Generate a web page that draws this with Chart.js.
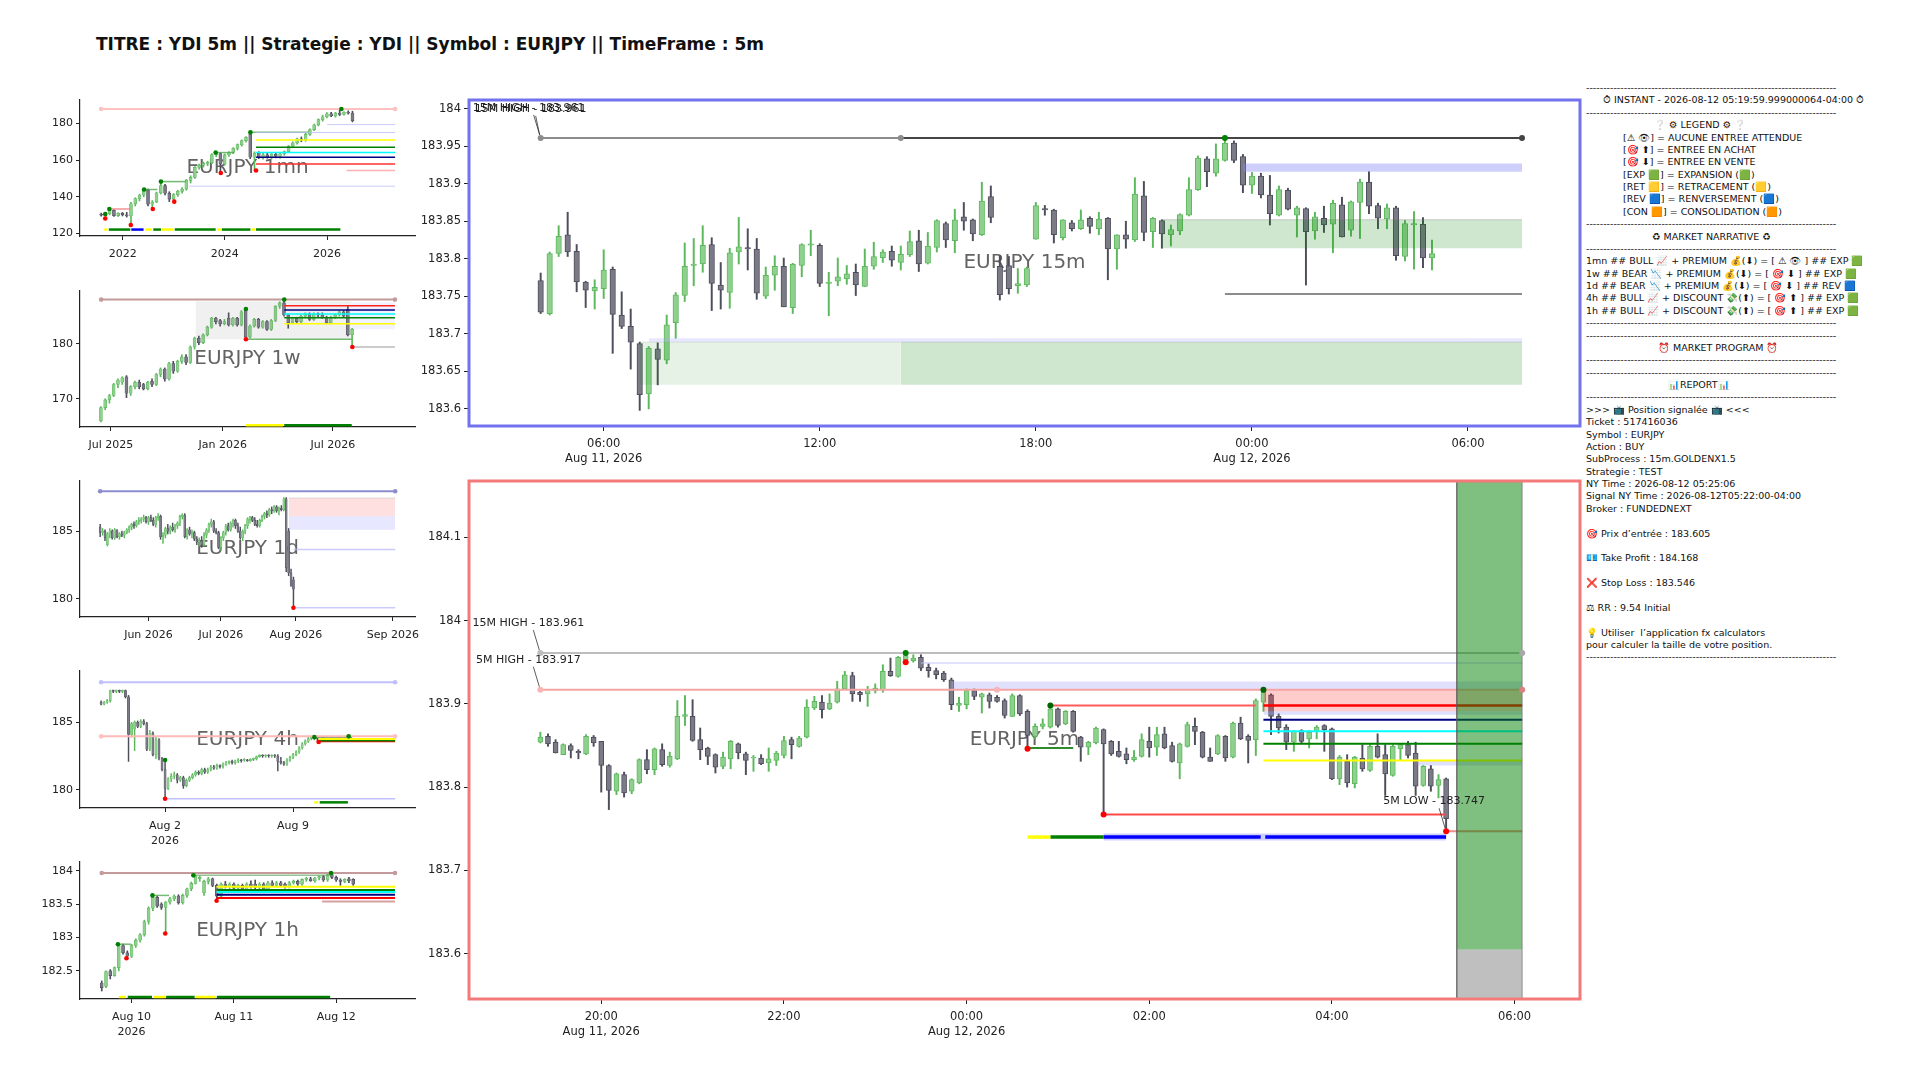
<!DOCTYPE html>
<html>
<head>
<meta charset="utf-8">
<script src="https://cdn.jsdelivr.net/npm/chart.js@4.4.1/dist/chart.umd.min.js"></script>
<style>
  body{margin:0;width:1920px;height:1080px;background:#fff;position:relative;overflow:hidden;font-family:"DejaVu Sans",sans-serif}
  #title{position:absolute;left:96px;top:34px;font-size:17px;font-weight:bold;color:#111;white-space:pre}
  #report{position:absolute;left:1586px;top:82px;font-size:9.5px;line-height:12.38px;color:#111;white-space:pre}
</style>
</head>
<body>
<div id="title">TITRE : YDI 5m || Strategie : YDI || Symbol : EURJPY || TimeFrame : 5m</div>
<div id="report"></div>
<script>
// ---- 15m candles [open, high, low, close], from Aug 11 04:15, every 15 min
const m15Start = 4.25, m15Step = 0.25; // hours since Aug 11 00:00
const m15Ohlc = [
[183.771,183.781,183.727,183.729],[183.727,183.809,183.725,183.807],[183.807,183.844,183.803,183.830],[183.832,183.862,183.803,183.809],
[183.810,183.819,183.756,183.769],[183.769,183.770,183.735,183.758],[183.757,183.772,183.733,183.762],[183.760,183.812,183.747,183.785],
[183.786,183.789,183.674,183.726],[183.725,183.756,183.707,183.710],[183.710,183.733,183.653,183.689],[183.687,183.689,183.598,183.619],
[183.620,183.683,183.600,183.681],[183.680,183.688,183.632,183.666],[183.665,183.725,183.660,183.712],[183.715,183.755,183.694,183.752],
[183.751,183.821,183.743,183.790],[183.791,183.827,183.764,183.793],[183.793,183.844,183.782,183.818],[183.819,183.828,183.731,183.767],
[183.765,183.795,183.733,183.758],[183.755,183.814,183.734,183.808],[183.809,183.855,183.793,183.816],[183.815,183.840,183.785,183.813],
[183.813,183.827,183.746,183.754],[183.750,183.789,183.747,183.778],[183.778,183.804,183.758,183.790],[183.790,183.801,183.736,183.736],
[183.735,183.794,183.727,183.793],[183.791,183.820,183.776,183.819],[183.818,183.838,183.804,183.820],[183.818,183.820,183.763,183.767],
[183.767,183.782,183.724,183.769],[183.770,183.801,183.764,183.776],[183.773,183.791,183.766,183.780],[183.782,183.793,183.751,183.765],
[183.763,183.813,183.763,183.790],[183.790,183.822,183.786,183.803],[183.801,183.812,183.795,183.809],[183.810,183.817,183.790,183.798],
[183.795,183.817,183.785,183.806],[183.805,183.837,183.803,183.823],[183.824,183.838,183.783,183.793],[183.794,183.835,183.793,183.817],
[183.815,183.852,183.809,183.851],[183.847,183.849,183.815,183.825],[183.824,183.866,183.808,183.852],[183.856,183.875,183.838,183.850],
[183.852,183.853,183.824,183.833],[183.832,183.902,183.831,183.877],[183.883,183.897,183.848,183.855],[183.790,183.804,183.745,183.752],
[183.791,183.803,183.753,183.760],[183.764,183.787,183.754,183.767],[183.765,183.789,183.763,183.787],[183.826,183.875,183.826,183.871],
[183.867,183.871,183.858,183.865],[183.865,183.866,183.821,183.832],[183.828,183.852,183.825,183.852],[183.848,183.851,183.837,183.840],
[183.840,183.865,183.839,183.852],[183.854,183.856,183.834,183.843],[183.840,183.862,183.832,183.853],[183.854,183.855,183.772,183.813],
[183.813,183.832,183.786,183.832],[183.832,183.850,183.814,183.826],[183.825,183.908,183.823,183.886],[183.884,183.903,183.824,183.835],
[183.836,183.855,183.815,183.854],[183.851,183.852,183.814,183.833],[183.832,183.845,183.817,183.839],[183.837,183.860,183.832,183.859],
[183.858,183.908,183.857,183.892],[183.892,183.937,183.891,183.934],[183.933,183.936,183.896,183.916],[183.914,183.953,183.910,183.933],
[183.931,183.961,183.930,183.954],[183.954,183.957,183.928,183.931],[183.936,183.939,183.888,183.898],[183.898,183.915,183.887,183.910],
[183.910,183.914,183.881,183.885],[183.885,183.911,183.845,183.860],[183.858,183.897,183.857,183.892],[183.891,183.894,183.865,183.866],
[183.858,183.870,183.829,183.868],[183.867,183.868,183.765,183.836],[183.837,183.862,183.826,183.856],[183.854,183.870,183.835,183.845],
[183.846,183.878,183.808,183.874],[183.872,183.882,183.829,183.829],[183.838,183.877,183.830,183.876],[183.875,183.906,183.827,183.902],
[183.902,183.916,183.860,183.870],[183.871,183.874,183.840,183.854],[183.853,183.873,183.840,183.868],[183.868,183.870,183.798,183.804],
[183.803,183.851,183.797,183.847],[183.845,183.863,183.786,183.847],[183.846,183.855,183.788,183.801],[183.801,183.825,183.785,183.807]
];
const m15Lines = [[4.25,14.25,183.961],[14.25,31.5,183.961],[23.25,31.5,183.753]];
const m15Bands = [[23.75,31.5,183.916,183.927],[21.5,31.5,183.814,183.852],[7.25,31.5,183.689,183.694],[7.0,14.25,183.632,183.689],[14.25,31.5,183.632,183.689]];
const m15Dots = [[4.25,183.961],[14.25,183.961],[31.5,183.961],[23.25,183.961]];
const m15Notes = [[4.25,183.961,'15M HIGH - 183.961'],[4.25,183.961,'15M HIGH - 183.961']];
const m15XTicks = [6,12,18,24,30];
const m15XLabels = [['06:00','Aug 11, 2026'],'12:00','18:00',['00:00','Aug 12, 2026'],'06:00'];
const m15YTicks = [183.6,183.65,183.7,183.75,183.8,183.85,183.9,183.95,184];

// ---- 5m candles [open, high, low, close], from Aug 11 19:20, every 5 min
const m5Start = 19 + 20/60, m5Step = 1/12;
const m5Ohlc = [
[183.854,183.866,183.853,183.860],[183.861,183.864,183.849,183.852],[183.854,183.857,183.841,183.841],[183.839,183.852,183.839,183.851],
[183.850,183.852,183.835,183.844],[183.843,183.845,183.834,183.841],[183.840,183.863,183.839,183.861],[183.860,183.862,183.849,183.853],
[183.855,183.855,183.794,183.826],[183.826,183.827,183.773,183.796],[183.795,183.817,183.791,183.816],[183.815,183.818,183.788,183.793],
[183.795,183.810,183.792,183.809],[183.805,183.834,183.804,183.833],[183.833,183.845,183.816,183.821],[183.821,183.847,183.815,183.846],
[183.845,183.852,183.825,183.827],[183.826,183.842,183.824,183.837],[183.834,183.904,183.833,183.885],[183.885,183.910,183.874,183.887],
[183.885,183.905,183.855,183.856],[183.857,183.871,183.833,183.845],[183.847,183.848,183.827,183.837],[183.839,183.840,183.817,183.824],
[183.825,183.842,183.822,183.836],[183.834,183.856,183.822,183.855],[183.852,183.853,183.834,183.841],[183.840,183.842,183.815,183.832],
[183.835,183.838,183.819,183.836],[183.835,183.839,183.827,183.828],[183.829,183.847,183.819,183.834],[183.832,183.843,183.826,183.841],
[183.838,183.861,183.835,183.856],[183.857,183.860,183.834,183.851],[183.849,183.861,183.848,183.859],[183.860,183.905,183.859,183.896],
[183.895,183.909,183.893,183.903],[183.902,183.910,183.883,183.893],[183.894,183.912,183.893,183.901],[183.902,183.927,183.901,183.918],
[183.918,183.939,183.917,183.935],[183.934,183.938,183.903,183.912],[183.914,183.915,183.903,183.911],[183.912,183.921,183.897,183.917],
[183.916,183.924,183.913,183.919],[183.917,183.947,183.914,183.939],[183.939,183.955,183.933,183.934],[183.933,183.957,183.932,183.956],
[183.953,183.961,183.952,183.958],[183.952,183.959,183.950,183.955],[183.956,183.959,183.940,183.943],[183.944,183.948,183.932,183.940],
[183.940,183.943,183.930,183.935],[183.937,183.939,183.927,183.929],[183.929,183.931,183.893,183.899],[183.898,183.908,183.891,183.901],
[183.899,183.918,183.894,183.916],[183.916,183.918,183.905,183.909],[183.908,183.913,183.889,183.912],[183.911,183.913,183.895,183.903],
[183.908,183.910,183.902,183.903],[183.904,183.906,183.883,183.886],[183.885,183.912,183.885,183.910],[183.910,183.911,183.886,183.888],
[183.891,183.893,183.846,183.862],[183.861,183.876,183.858,183.873],[183.873,183.882,183.870,183.876],[183.872,183.898,183.871,183.894],
[183.894,183.895,183.872,183.874],[183.876,183.892,183.875,183.891],[183.891,183.892,183.866,183.867],[183.860,183.861,183.831,183.848],
[183.848,183.855,183.839,183.854],[183.853,183.872,183.852,183.871],[183.869,183.870,183.767,183.852],[183.855,183.856,183.838,183.840],
[183.843,183.855,183.836,183.837],[183.840,183.847,183.828,183.833],[183.833,183.844,183.831,183.836],[183.837,183.864,183.836,183.857],
[183.855,183.872,183.836,183.847],[183.848,183.872,183.838,183.863],[183.864,183.872,183.846,183.847],[183.850,183.854,183.830,183.831],
[183.829,183.853,183.810,183.852],[183.849,183.878,183.848,183.875],[183.873,183.883,183.851,183.867],[183.866,183.867,183.835,183.836],
[183.836,183.847,183.831,183.831],[183.840,183.863,183.839,183.862],[183.861,183.862,183.831,183.835],[183.836,183.878,183.835,183.877],
[183.877,183.884,183.857,183.858],[183.861,183.863,183.829,183.856],[183.857,183.906,183.838,183.904],[183.902,183.917,183.891,183.914],
[183.911,183.912,183.863,183.885],[183.885,183.888,183.865,183.871],[183.872,183.875,183.845,183.854],[183.854,183.868,183.843,183.867],
[183.868,183.869,183.853,183.855],[183.858,183.868,183.847,183.866],[183.868,183.874,183.858,183.872],[183.874,183.875,183.843,183.869],
[183.870,183.871,183.809,183.810],[183.810,183.838,183.803,183.836],[183.831,183.839,183.800,183.805],[183.804,183.837,183.799,183.836],
[183.835,183.851,183.819,183.822],[183.820,183.851,183.819,183.849],[183.849,183.864,183.835,183.836],[183.839,183.851,183.790,183.816],
[183.814,183.851,183.813,183.849],[183.846,183.852,183.832,183.851],[183.851,183.855,183.835,183.838],[183.841,183.854,183.790,183.801],
[183.802,183.826,183.801,183.825],[183.822,183.826,183.795,183.801],[183.802,183.815,183.787,183.809],[183.810,183.811,183.747,183.762]
];
const m5Lines = [
  [19.333,30.083,183.961],[19.333,30.083,183.917],[23.5,30.083,183.949],[24.917,27.167,183.898],
  [27.25,30.083,183.898],[27.25,30.083,183.881],[27.25,30.083,183.867],[27.25,30.083,183.852],
  [27.25,30.083,183.832],[24.667,25.167,183.847],[25.5,29.25,183.767],[29.25,30.083,183.747]
];
const m5BarLevel = 183.740;
const m5Bars = [[24.667,24.917],[24.917,25.5],[25.5,27.22],[27.27,29.25]];
const m5BarHalo = [[25.5,29.25]];
const m5Bands = [[23.833,30.083,183.917,183.927],[27.25,30.083,183.891,183.917],[27.25,30.083,183.887,183.891],[28.93,30.083,183.826,183.832]];
const m5Entry = 183.605, m5TakeProfit = 184.168, m5StopLoss = 183.546, m5Box = [29.367,30.083];
const m5Dots = [[19.333,183.961],[30.083,183.961],[19.333,183.917],[24.333,183.917],[30.083,183.917],[23.333,183.961],
  [23.333,183.950],[24.667,183.846],[24.917,183.898],[25.5,183.767],[27.25,183.917],[29.25,183.747]];
const m5Notes = [[19.333,183.961,'15M HIGH - 183.961'],[19.333,183.917,'5M HIGH - 183.917'],[29.25,183.747,'5M LOW - 183.747']];
const m5XTicks = [20,22,24,26,28,30];
const m5XLabels = [['20:00','Aug 11, 2026'],'22:00',['00:00','Aug 12, 2026'],'02:00','04:00','06:00'];
const m5YTicks = [183.6,183.7,183.8,183.9,184,184.1];

// ---- 1mn (monthly, x in years)
const p1Start = 2021.58, p1Step = 1/12;
const p1Ohlc = [
[130.5,131.2,129.5,130.0],[129.6,131.0,128.2,131.0],[130.8,133.4,130.2,132.6],[132.6,133.0,129.4,129.8],[129.8,131.4,129.3,131.0],
[131.0,131.5,129.6,130.2],[130.2,131.6,129.0,129.6],[129.6,137.0,124.7,136.2],[136.2,139.5,135.0,139.0],[139.0,141.5,137.8,141.0],
[141.0,144.0,140.0,143.6],[143.6,144.2,135.0,136.0],[136.0,138.0,133.4,137.2],[137.2,142.6,136.8,142.2],[142.2,148.3,141.5,146.2],
[146.2,146.8,141.0,142.0],[142.0,142.8,137.4,138.8],[138.8,141.8,138.0,141.2],[141.2,143.6,140.2,143.0],[143.0,145.0,142.0,144.2],
[144.2,149.5,143.6,149.0],[149.0,151.5,147.5,150.6],[150.6,156.5,150.0,156.0],[156.0,157.8,155.0,157.2],[157.2,159.0,156.2,158.2],
[158.2,159.4,157.0,158.6],[158.6,163.5,158.0,163.0],[163.0,164.1,161.8,163.6],[163.6,164.0,153.0,157.8],[157.8,163.4,157.2,162.8],
[162.8,164.6,162.0,164.2],[164.2,166.8,163.5,166.4],[166.4,168.8,165.5,168.4],[168.4,171.0,167.6,170.6],[170.6,172.8,169.8,172.4],
[174.4,175.1,160.8,161.6],[161.6,164.5,154.3,163.8],[163.8,164.6,160.8,161.6],[161.6,163.8,160.5,162.8],[162.8,164.2,161.0,161.4],
[161.4,163.6,160.6,163.2],[163.2,164.0,161.2,162.0],[162.0,163.8,161.0,163.4],[163.4,165.0,162.6,164.6],[164.6,168.0,164.0,167.6],
[167.6,170.0,167.0,169.4],[169.4,172.0,168.6,171.6],[171.6,172.6,170.0,170.8],[170.8,174.6,170.2,174.0],[174.0,177.0,173.4,176.6],
[176.6,179.6,176.0,179.2],[179.2,182.4,178.6,182.0],[182.0,184.4,181.2,183.6],[183.6,185.8,183.0,185.2],[185.2,186.0,183.6,184.0],
[184.0,186.0,183.4,185.6],[185.6,187.8,184.2,184.8],[184.8,186.4,184.4,186.0],[186.0,186.8,185.0,185.6],[185.6,186.6,180.8,181.4]
];
const p1Lines = [[2021.58,2027.33,187.8],[2024.61,2027.33,171.0],[2024.61,2027.33,167.0],[2024.61,2027.33,164.2],[2024.61,2027.33,161.5],
  [2024.61,2027.33,157.9],[2026.38,2027.33,154.3],[2026.0,2027.33,179.3],[2024.6,2027.33,175.0],[2023.3,2027.33,145.8],
  [2021.74,2022.15,133.4],[2022.42,2022.68,144.0],[2022.75,2023.24,148.3],[2023.82,2024.18,164.1],[2024.51,2025.65,175.1]];
const p1BarLevel = 122.2;
const p1Bars = [[2021.64,2021.70],[2021.73,2022.15],[2022.17,2022.41],[2022.44,2022.57],[2022.60,2022.75],[2022.77,2023.0],
  [2023.02,2023.82],[2023.85,2023.92],[2023.94,2024.50],[2024.52,2024.59],[2024.61,2026.26]];
const p1Dots = [[2021.58,187.8],[2027.33,187.8],[2021.66,130.7],[2021.74,133.4],[2021.66,128.2],[2022.16,124.7],[2022.42,144.0],
  [2022.59,133.4],[2022.75,148.3],[2023.01,137.4],[2023.82,164.1],[2023.92,153.0],[2024.50,175.1],[2024.61,154.3],[2026.28,187.8]];
const p1XTicks = [2022,2024,2026], p1XLabels = ['2022','2024','2026'], p1YTicks = [120,140,160,180];

// ---- 1w (weekly, x in days since 2025-07-01)
const p2Start = -16.4, p2Step = 7;
const p2Ohlc = [
[166.0,168.6,165.8,168.4],[168.4,170.0,168.0,169.8],[169.8,170.8,169.2,170.6],[170.6,172.8,170.4,172.6],[172.6,173.6,172.0,173.4],
[173.0,174.0,172.6,173.8],[174.0,174.2,170.2,171.0],[171.0,172.4,170.6,172.2],[172.2,173.2,171.8,173.0],[173.0,173.4,171.8,172.2],
[172.6,172.8,171.6,171.8],[171.8,173.2,171.6,173.0],[173.2,173.6,172.2,172.6],[172.6,174.6,172.4,174.4],[174.4,175.6,174.0,175.4],
[175.4,175.6,173.2,173.6],[173.6,176.6,173.4,176.4],[176.4,176.8,174.6,175.0],[175.0,177.0,174.8,176.8],[176.8,178.0,176.4,177.6],
[177.6,178.0,176.2,176.6],[176.6,179.6,176.4,179.4],[179.4,181.2,179.0,181.0],[181.0,181.4,179.8,180.2],[180.2,181.8,180.0,181.6],
[181.6,183.2,181.4,183.0],[183.0,184.8,182.8,184.6],[184.6,184.8,183.6,184.0],[184.2,184.4,183.2,183.6],[183.6,184.4,183.4,184.0],
[184.6,185.6,183.2,183.4],[183.4,184.8,183.2,184.6],[184.6,184.8,183.2,183.4],[183.4,186.0,183.2,185.8],[186.3,186.4,180.8,181.2],
[181.2,183.4,181.0,183.2],[183.2,184.6,183.0,184.4],[184.4,184.6,182.8,183.0],[183.0,184.2,182.8,184.0],[184.0,184.2,182.4,182.6],
[182.6,184.4,182.4,184.2],[184.2,186.9,184.0,186.8],[186.8,187.6,186.4,187.4],[187.4,188.0,185.0,185.2],[185.2,185.4,182.8,183.8],
[183.8,184.8,183.6,184.6],[184.6,184.8,183.8,184.0],[184.0,185.2,183.8,185.0],[185.0,185.6,184.8,185.4],[185.4,185.6,184.2,184.4],
[184.4,185.6,184.2,185.4],[185.4,185.6,184.8,185.2],[185.2,185.6,184.6,184.8],[184.8,185.0,183.6,183.8],[183.8,185.0,183.6,184.8],
[184.8,185.4,184.6,185.2],[185.2,186.0,185.0,185.8],[185.8,186.0,184.8,185.0],[186.2,186.8,181.4,181.6],[181.6,182.8,179.4,182.6]
];
const p2Lines = [[-16,467,188.0],[285,467,186.9],[285,467,186.1],[285,467,185.4],[285,467,184.7],[285,467,183.6],[222,396,180.8],[397,467,179.4]];
const p2BarLevel = 165.2;
const p2Bars = [[222,283],[285,396]];
const p2Bands = [[139,396,180.8,187.7],[396,467,182.6,187.5]];
const p2Dots = [[-16,188.0],[467,188.0],[222,186.3],[285,188.0],[222,180.8],[397,179.4]];
const p2XTicks = [0,184,365], p2XLabels = ['Jul 2025','Jan 2026','Jul 2026'], p2YTicks = [170,180];

// ---- 1d (daily, x in days since 2026-05-01)
const p3Start = 11, p3Step = 1;
const p3Ohlc = [
[185.3,185.5,184.6,184.9],[184.9,185.2,184.7,185.0],[185.0,185.1,184.3,184.5],[184.0,184.9,183.9,184.8],[184.8,185.2,184.5,185.0],
[185.0,185.1,184.4,184.5],[184.5,185.2,184.4,185.1],[185.1,185.1,184.5,184.6],[184.6,184.9,184.4,184.8],[184.8,185.0,184.6,184.7],
[184.7,185.0,184.5,184.9],[184.9,185.2,184.8,185.1],[185.1,185.4,184.9,185.3],[185.3,185.6,185.1,185.5],[185.5,185.7,185.2,185.4],
[185.4,185.8,185.3,185.7],[185.7,186.0,185.5,185.8],[185.8,186.0,185.6,185.9],[185.9,186.2,185.7,186.0],[186.0,186.1,185.6,185.7],
[185.7,186.1,185.5,186.0],[186.0,186.2,185.7,185.8],[185.8,186.0,185.4,185.5],[185.5,186.1,185.3,186.0],[186.0,186.3,185.8,186.1],
[186.1,186.2,184.4,184.6],[184.6,184.9,184.1,184.7],[184.7,185.3,184.5,185.2],[185.2,185.5,184.8,185.0],[185.0,185.4,184.8,185.3],
[185.3,185.6,185.0,185.1],[185.1,185.5,184.9,185.4],[185.4,185.7,185.2,185.6],[185.6,186.2,185.4,186.1],[186.1,186.3,185.9,186.2],
[186.2,186.3,184.5,184.6],[184.6,185.2,184.4,185.1],[185.1,185.3,184.7,184.8],[184.8,185.1,184.5,184.9],[184.9,185.0,184.3,184.4],
[184.4,184.6,184.0,184.2],[184.2,184.5,183.9,184.3],[184.3,184.6,183.8,184.0],[184.0,184.9,183.9,184.7],[184.7,185.2,184.5,185.1],
[185.1,185.6,184.9,185.5],[185.5,185.9,185.3,185.7],[185.7,185.8,184.9,185.0],[185.0,185.2,184.8,184.9],[184.9,185.0,183.7,183.8],
[183.8,184.6,183.6,184.5],[184.5,185.0,184.3,184.9],[184.9,185.5,184.7,185.4],[185.4,185.6,185.0,185.1],[185.1,185.7,185.0,185.6],
[185.6,185.9,185.3,185.8],[185.8,185.9,185.2,185.4],[185.4,185.6,184.9,185.0],[185.0,185.3,184.4,184.5],[184.5,185.1,184.3,185.0],
[185.0,185.5,184.8,185.4],[185.4,186.0,185.2,185.9],[185.9,186.1,185.6,186.0],[186.0,186.1,185.7,185.8],[185.8,186.0,185.4,185.5],
[185.5,185.8,185.3,185.4],[185.4,185.9,185.3,185.8],[185.8,186.2,185.7,186.1],[186.1,186.4,185.9,186.3],[186.3,186.5,186.0,186.2],
[186.2,186.7,186.1,186.6],[186.6,186.8,186.3,186.5],[186.5,186.9,186.4,186.8],[186.8,186.9,186.4,186.5],[186.5,186.8,186.2,186.7],
[186.7,186.9,186.5,186.6],[186.6,187.5,186.5,187.4],[187.4,187.5,182.0,182.3],[185.0,185.2,181.7,181.9],[181.9,182.2,180.9,181.0],
[181.4,181.6,179.3,180.7]
];
const p3Lines = [[11,133.1,187.96],[91,133.1,183.65],[92,133.1,179.33]];
const p3Bands = [[89,133.1,186.1,187.46],[89,133.1,185.1,186.1]];
const p3Dots = [[11,187.96],[133.1,187.96],[91,179.33]];
const p3XTicks = [31,61,92,132.1], p3XLabels = ['Jun 2026','Jul 2026','Aug 2026','Sep 2026'], p3YTicks = [180,185];

// ---- 4h (x in hours since 2026-08-02)
const p4Start = -84, p4Step = 4;
const p4Ohlc = [
[186.5,186.6,186.3,186.35],[186.35,186.55,186.3,186.5],[186.5,186.7,186.4,186.6],[186.6,187.4,186.5,187.35],[187.35,187.4,187.2,187.3],
[187.3,187.4,187.2,187.35],[187.35,187.4,187.2,187.3],[187.3,187.4,187.2,187.35],[187.35,187.4,186.8,186.9],[186.9,187.0,182.1,184.1],
[184.1,185.0,183.9,184.9],[184.5,185.1,182.9,185.0],[185.0,185.1,184.6,184.7],[184.7,185.2,184.6,185.1],[185.1,185.2,184.8,184.9],
[184.9,185.0,182.9,183.0],[183.0,184.4,182.9,184.2],[184.2,184.3,182.5,182.6],[182.6,183.9,182.3,183.7],[183.7,183.8,182.2,182.35],
[182.35,182.4,181.4,181.5],[181.5,182.2,179.33,180.1],[180.1,180.9,180.0,180.8],[180.8,181.2,180.6,181.0],[181.0,181.3,180.8,181.1],
[181.1,181.2,180.5,180.7],[180.7,181.0,180.6,180.9],[180.9,181.0,180.1,180.3],[180.3,180.8,180.2,180.7],[180.7,181.0,180.6,180.9],
[180.9,181.2,180.8,181.1],[181.1,181.4,181.0,181.3],[181.3,181.4,181.1,181.2],[181.2,181.6,181.1,181.5],[181.5,181.6,181.2,181.3],
[181.3,181.6,181.2,181.5],[181.5,181.8,181.4,181.7],[181.7,181.8,181.5,181.6],[181.6,181.9,181.5,181.8],[181.8,181.85,181.6,181.7],
[181.7,182.0,181.6,181.9],[181.9,182.1,181.8,182.0],[182.0,182.15,181.9,182.1],[182.1,182.2,181.9,182.0],[182.0,182.2,181.9,182.15],
[182.15,182.3,182.0,182.2],[182.2,182.25,182.05,182.15],[182.2,182.3,182.1,182.2],[182.2,182.25,182.1,182.15],[182.15,182.3,182.1,182.25],
[182.25,182.35,182.15,182.3],[182.3,182.5,182.2,182.45],[182.45,182.6,182.4,182.55],[182.55,182.6,182.4,182.5],[182.5,182.6,182.4,182.55],
[182.55,182.6,182.4,182.5],[182.5,182.6,182.4,182.55],[182.55,182.6,182.4,182.5],[182.5,182.6,181.4,182.1],[182.1,182.4,181.9,182.0],
[182.0,182.1,181.8,181.9],[181.9,182.3,181.8,182.2],[182.2,182.5,182.1,182.4],[182.4,182.7,182.3,182.6],[182.6,182.9,182.5,182.8],
[182.8,183.2,182.7,183.1],[183.1,183.5,183.0,183.4],[183.4,183.7,183.3,183.6],[183.6,183.9,183.5,183.8],[183.8,183.95,183.7,183.9],
[183.85,183.95,183.7,183.9],[183.9,183.95,183.54,183.8],[183.8,183.95,183.75,183.9],[183.9,183.95,183.8,183.85],[183.85,183.95,183.8,183.9],
[183.9,183.95,183.85,183.92],[183.92,183.95,183.82,183.88],[183.88,183.95,183.85,183.92],[183.92,183.96,183.84,183.86],[183.86,183.96,183.84,183.9],
[183.9,183.96,183.86,183.93],[183.93,183.96,183.88,183.94],[183.94,183.96,183.82,183.86]
];
const p4Lines = [[-84,302,187.97],[-84,302,183.96],[0,302,179.33],[196,241,183.9],[201.6,302,183.76],[201.6,302,183.66],[201.6,302,183.59]];
const p4BarLevel = 179.06;
const p4Bars = [[196,201],[203,240]];
const p4Dots = [[-84,187.97],[302,187.97],[-84,183.96],[302,183.96],[0,182.2],[0,179.33],[196,183.9],[241,183.96],[201.6,183.54]];
const p4XTicks = [0,168], p4XLabels = [['Aug 2','2026'],'Aug 9'], p4YTicks = [180,185];

// ---- 1h (x in hours since 2026-08-10)
const p5Start = -7, p5Step = 1;
const p5Ohlc = [
[182.32,182.35,182.2,182.25],[182.27,182.5,182.25,182.49],[182.5,182.52,182.38,182.43],[182.43,182.56,182.42,182.55],[182.55,182.9,182.5,182.88],
[182.88,182.9,182.75,182.77],[182.77,182.8,182.69,182.72],[182.72,182.9,182.7,182.88],[182.88,182.98,182.85,182.96],[182.96,183.06,182.93,183.04],
[183.04,183.26,183.02,183.24],[183.24,183.46,183.2,183.44],[183.44,183.63,183.4,183.6],[183.6,183.62,183.45,183.47],[183.5,183.52,183.42,183.45],
[183.45,183.54,183.06,183.53],[183.53,183.6,183.5,183.58],[183.58,183.64,183.55,183.62],[183.62,183.64,183.5,183.52],[183.52,183.65,183.5,183.63],
[183.63,183.74,183.6,183.73],[183.73,183.83,183.7,183.81],[183.81,183.93,183.8,183.92],[183.88,183.92,183.84,183.9],[183.67,183.86,183.63,183.84],
[183.84,183.9,183.8,183.88],[183.88,183.89,183.76,183.78],[183.78,183.8,183.55,183.62],[183.62,183.82,183.6,183.8],[183.8,183.84,183.74,183.76],
[183.76,183.82,183.72,183.8],[183.8,183.82,183.72,183.74],[183.74,183.8,183.7,183.78],[183.78,183.8,183.7,183.72],[183.72,183.82,183.7,183.8],
[183.8,183.85,183.74,183.76],[183.8,183.86,183.72,183.75],[183.75,183.82,183.72,183.8],[183.8,183.82,183.68,183.72],[183.72,183.84,183.7,183.82],
[183.82,183.85,183.76,183.78],[183.78,183.84,183.76,183.82],[183.82,183.84,183.76,183.78],[183.8,183.82,183.74,183.76],[183.76,183.84,183.74,183.82],
[183.82,183.86,183.8,183.84],[183.84,183.86,183.78,183.8],[183.8,183.88,183.78,183.87],[183.87,183.9,183.84,183.88],[183.88,183.9,183.84,183.85],
[183.85,183.9,183.83,183.89],[183.89,183.92,183.86,183.91],[183.91,183.93,183.84,183.86],[183.86,183.96,183.84,183.94],[183.94,183.965,183.88,183.9],
[183.9,183.92,183.84,183.86],[183.86,183.88,183.78,183.84],[183.84,183.88,183.82,183.87],[183.88,183.9,183.82,183.85],[183.87,183.88,183.78,183.8]
];
const p5Lines = [[-7,61.8,183.965],[14.5,46.8,183.93],[19.95,61.8,183.76],[19.95,61.8,183.71],[19.95,61.8,183.68],[19.95,61.8,183.64],
  [19.95,61.8,183.59],[44.7,61.8,183.54],[-3.2,-0.2,182.9],[4.9,8.8,183.63]];
const p5BarLevel = 182.11;
const p5Bars = [[-3.0,-1.3],[-0.9,4.8],[5.1,7.9],[8.1,14.8],[15.0,19.7],[20.0,46.6]];
const p5Dots = [[-7,183.965],[61.8,183.965],[-3.2,182.9],[-1.2,182.69],[4.9,183.63],[7.9,183.06],[14.5,183.93],[19.95,183.55],[46.8,183.965]];
const p5XTicks = [0,24,48], p5XLabels = [['Aug 10','2026'],'Aug 11','Aug 12'], p5YTicks = [182.5,183,183.5,184];

// ---- report panel
const DASH = '-'.repeat(73);
const reportLines = [
 [0,DASH],[17,'⏱ INSTANT - 2026-08-12 05:19:59.999000064-04:00 ⏱'],[0,DASH],[68,'❔ ⚙ LEGEND ⚙ ❔'],
 [37,'[⚠ 👁] = AUCUNE ENTREE ATTENDUE'],[37,'[🎯 ⬆] = ENTREE EN ACHAT'],[37,'[🎯 ⬇] = ENTREE EN VENTE'],
 [37,'[EXP 🟩] = EXPANSION (🟩)'],[37,'[RET 🟨] = RETRACEMENT (🟨)'],[37,'[REV 🟦] = RENVERSEMENT (🟦)'],[37,'[CON 🟧] = CONSOLIDATION (🟧)'],
 [0,DASH],[66,'♻ MARKET NARRATIVE ♻'],[0,DASH],
 [0,'1mn ## BULL 📈 + PREMIUM 💰(⬇) = [ ⚠ 👁 ] ## EXP 🟩'],[0,'1w ## BEAR 📉 + PREMIUM 💰(⬇) = [ 🎯 ⬇ ] ## EXP 🟩'],
 [0,'1d ## BEAR 📉 + PREMIUM 💰(⬇) = [ 🎯 ⬇ ] ## REV 🟦'],[0,'4h ## BULL 📈 + DISCOUNT 💸(⬆) = [ 🎯 ⬆ ] ## EXP 🟩'],
 [0,'1h ## BULL 📈 + DISCOUNT 💸(⬆) = [ 🎯 ⬆ ] ## EXP 🟩'],
 [0,DASH],[0,DASH],[72,'⏰ MARKET PROGRAM ⏰'],[0,DASH],[0,DASH],[82,'📊REPORT📊'],[0,DASH],
 [0,'>>> 📺 Position signalée 📺 <<<'],[0,'Ticket : 517416036'],[0,'Symbol : EURJPY'],[0,'Action : BUY'],
 [0,'SubProcess : 15m.GOLDENX1.5'],[0,'Strategie : TEST'],[0,'NY Time : 2026-08-12 05:25:06'],
 [0,'Signal NY Time : 2026-08-12T05:22:00-04:00'],[0,'Broker : FUNDEDNEXT'],[0,''],
 [0,'🎯 Prix d’entrée : 183.605'],[0,''],[0,'💶 Take Profit : 184.168'],[0,''],[0,'❌ Stop Loss : 183.546'],[0,''],
 [0,'⚖ RR : 9.54 Initial'],[0,''],[0,'💡 Utiliser  l’application fx calculators'],[0,'pour calculer la taille de votre position.'],[0,DASH]
];
const rep = document.getElementById('report');
reportLines.forEach(([ind, txt]) => { const d = document.createElement('div'); d.style.paddingLeft = ind + 'px'; d.style.height = '12.38px'; d.textContent = txt; rep.appendChild(d); });

// ---- drawing helpers
const GREEN = '#5cb85c', GREEN_FILL = '#8fd08f', DARK = '#4d4d5b', DARK_FILL = '#7b7b88';
const YELLOW = '#ffff00', DGREEN = '#008000', BLUE = '#0000ff', NAVY = '#000080', CYAN = '#00ffff', RED = '#ff0000';
const SWING = 'rgba(80,170,80,0.8)', LAV = 'rgba(185,185,250,0.75)';

Chart.defaults.font.family = 'DejaVu Sans';

function candles(t0, dt, ohlc, bodyW, wickW, bw){
  const xs = ohlc.map((_, i) => t0 + i * dt);
  const up = ohlc.map(c => c[3] >= c[0]);
  return [
    {type:'bar', data: ohlc.map((c,i) => ({x: xs[i], y: [c[2], c[1]]})), backgroundColor: up.map(u => u ? GREEN : DARK),
     borderWidth: 0, barThickness: wickW, grouped: false, order: 30},
    {type:'bar', data: ohlc.map((c,i) => ({x: xs[i], y: [c[0], c[3]]})), backgroundColor: up.map(u => u ? GREEN_FILL : DARK_FILL),
     borderColor: up.map(u => u ? GREEN : DARK), borderWidth: bw, borderSkipped: false, barThickness: bodyW, minBarLength: 1,
     grouped: false, order: 29}
  ];
}
function segs(rows, styles, order){
  return rows.map((r, i) => ({type:'line', data:[{x:r[0], y:r[2]}, {x:r[1], y:r[2]}], borderColor: styles[i][0],
    borderWidth: styles[i][1], pointRadius: 0, fill: false, order: order || 3}));
}
function bars(level, rows, colors, width, order){
  return segs(rows.map(r => [r[0], r[1], level]), colors.map(c => [c, width]), order || 3);
}
function bands(rows, styles, order){
  return rows.map((r, i) => ({type:'line', data:[{x:r[0], y:r[3]}, {x:r[1], y:r[3]}], backgroundColor: styles[i][0],
    borderColor: styles[i][1] || 'rgba(0,0,0,0)', borderWidth: styles[i][1] ? 1 : 0, fill: {value: r[2]}, pointRadius: 0, order: order || 6}));
}
function outline(x0, x1, y0, y1, color){
  return {type:'line', data:[{x:x0,y:y0},{x:x1,y:y0},{x:x1,y:y1},{x:x0,y:y1},{x:x0,y:y0}], borderColor: color, borderWidth: 1,
    pointRadius: 0, fill: false, order: 2};
}
function dots(rows, colors, r){
  return [{type:'line', data: rows.map(p => ({x:p[0], y:p[1]})), showLine: false, pointRadius: r, pointBackgroundColor: colors,
    pointBorderWidth: 0, order: 0}];
}

const decor = {
  id: 'decor',
  beforeDatasetsDraw(chart){
    const o = chart.canvas._decor, a = chart.chartArea, c = chart.ctx;
    if (!o || !o.mark) return;
    c.save(); c.font = '20px "DejaVu Sans"'; c.fillStyle = 'rgba(72,72,72,0.85)'; c.textAlign = 'center'; c.textBaseline = 'middle';
    c.fillText(o.mark, (a.left + a.right) / 2, (a.top + a.bottom) / 2); c.restore();
  },
  afterDatasetsDraw(chart){
    const o = chart.canvas._decor, c = chart.ctx;
    if (!o || !o.notes) return;
    const xs = chart.scales.x, ys = chart.scales.y;
    c.save(); c.font = '11px "DejaVu Sans"'; c.fillStyle = '#222'; c.strokeStyle = '#333'; c.lineWidth = 0.8;
    c.textAlign = 'center'; c.textBaseline = 'middle';
    o.notes.forEach((n, i) => {
      const sh = (o.shift && o.shift[i]) || [0, 0];
      const px = xs.getPixelForValue(n[0]), py = ys.getPixelForValue(n[1]);
      c.fillText(n[2], px - 12 + sh[0], py - 30 + sh[1]);
      c.beginPath(); c.moveTo(px - 7 + sh[0], py - 23 + sh[1]); c.lineTo(px - 1, py - 3); c.stroke();
    });
    c.restore();
  },
  afterDraw(chart){
    const o = chart.canvas._decor, a = chart.chartArea, c = chart.ctx;
    if (!o || !o.frame) return;
    c.save(); c.strokeStyle = o.frame; c.lineWidth = 3; c.strokeRect(a.left, a.top, a.right - a.left, a.bottom - a.top); c.restore();
  }
};
Chart.register(decor);

function makeChart(box, pad, xr, yr, xt, xl, yt, datasets, deco, big){
  const cv = document.createElement('canvas');
  const w = box[2] + pad[0] + pad[2], h = box[3] + pad[1] + pad[3];
  cv.width = w; cv.height = h;
  cv.style.cssText = `position:absolute;left:${box[0] - pad[0]}px;top:${box[1] - pad[1]}px;width:${w}px;height:${h}px`;
  cv._decor = deco;
  document.body.appendChild(cv);
  const font = {family: 'DejaVu Sans', size: big ? 11.5 : 11, lineHeight: 1.35};
  const grid = {display: true, offset: false, drawOnChartArea: false, drawTicks: true, tickLength: big ? 5 : 4, tickColor: '#222', tickWidth: 1};
  const border = big ? {display: false} : {display: true, color: '#222', width: 1.2};
  const yl = yt.map(v => String(v));
  new Chart(cv, {
    type: 'bar',
    data: {datasets},
    options: {
      responsive: false, animation: false, events: [],
      layout: {padding: {left: 0, top: pad[1], right: pad[2], bottom: 0}},
      plugins: {legend: {display: false}, tooltip: {enabled: false}},
      scales: {
        x: {type: 'linear', min: xr[0], max: xr[1], bounds: 'data', offset: false, grid, border,
            afterBuildTicks: a => { a.ticks = xt.map(v => ({value: v})); },
            afterFit: s => { s.height = pad[3]; },
            ticks: {autoSkip: false, maxRotation: 0, minRotation: 0, padding: big ? 5 : 7, color: '#222', font, callback: (v, i) => xl[i]}},
        y: {type: 'linear', min: yr[0], max: yr[1], bounds: 'data', grid, border,
            afterBuildTicks: a => { a.ticks = yt.map(v => ({value: v})); },
            afterFit: s => { s.width = pad[0]; },
            ticks: {autoSkip: false, padding: big ? 3 : 3, color: '#222', font, callback: (v, i) => yl[i]}}
      }
    }
  });
}

const SMALL_PAD = [75, 14, 40, 52], BIG_PAD = [70, 14, 12, 46];

// 1mn
makeChart([80,100,335,136], SMALL_PAD, [2021.166, 2027.72], [118.7, 192.7], p1XTicks, p1XLabels, p1YTicks, [
  ...dots(p1Dots, ['#ffc0c0','#ffc0c0',DGREEN,DGREEN,RED,RED,DGREEN,RED,DGREEN,RED,DGREEN,RED,DGREEN,RED,DGREEN], 2.3),
  ...segs(p1Lines, [['#ffc0c0',2],[YELLOW,1.5],[DGREEN,1.5],[CYAN,1.5],[NAVY,1.5],['#ff3030',1.5],['#ffb0b0',1.5],
    [LAV,1],[LAV,1],[LAV,1],['rgba(240,120,120,0.8)',1.5],[SWING,1.5],[SWING,1.5],[SWING,1.5],[SWING,1.5]]),
  ...bars(p1BarLevel, p1Bars, [YELLOW,DGREEN,BLUE,YELLOW,DGREEN,YELLOW,DGREEN,YELLOW,DGREEN,YELLOW,DGREEN], 2.5),
  ...candles(p1Start, p1Step, p1Ohlc, 3, 1, 0.6)
], {mark: 'EURJPY 1mn'}, false);

// 1w
makeChart([80,291,335,136], SMALL_PAD, [-50.8, 500], [164.88, 189.56], p2XTicks, p2XLabels, p2YTicks, [
  ...dots(p2Dots, ['#c49a9a','#c49a9a',DGREEN,DGREEN,RED,RED], 2.3),
  ...segs(p2Lines, [['#c49a9a',2],['#ff2020',1.5],[NAVY,1.5],[CYAN,1.5],[DGREEN,1.5],[YELLOW,1.5],[SWING,1.5],['#bbbbbb',1.5]]),
  ...bars(p2BarLevel, p2Bars, [YELLOW, DGREEN], 2.5),
  ...bands(p2Bands, [['rgba(128,128,128,0.12)'],['rgba(160,160,255,0.15)']]),
  ...candles(p2Start, p2Step, p2Ohlc, 3, 1, 0.6)
], {mark: 'EURJPY 1w'}, false);

// 1d
makeChart([80,481,335,136], SMALL_PAD, [2.66, 141.3], [178.64, 188.72], p3XTicks, p3XLabels, p3YTicks, [
  ...dots(p3Dots, ['#8c8cd0','#8c8cd0',RED], 2.3),
  ...segs(p3Lines, [['#8c8cd0',2],[LAV,1.5],[LAV,1.5]]),
  ...bands(p3Bands, [['rgba(255,0,0,0.12)','rgba(150,150,150,0.3)'],['rgba(120,120,255,0.18)']]),
  ...candles(p3Start, p3Step, p3Ohlc, 2, 0.8, 0.5)
], {mark: 'EURJPY 1d'}, false);

// 4h
makeChart([80,671,335,137], SMALL_PAD, [-111.7, 328.1], [178.64, 188.81], p4XTicks, p4XLabels, p4YTicks, [
  ...dots(p4Dots, ['#c0c0ff','#c0c0ff','#ffc0c0','#ffc0c0',DGREEN,RED,DGREEN,DGREEN,RED], 2.3),
  ...segs(p4Lines, [['#c0c0ff',2],['#ffb8b8',2],['#c0c0ff',1.5],['rgba(110,150,110,0.8)',1.5],[YELLOW,2],[DGREEN,2],[RED,2]]),
  ...bars(p4BarLevel, p4Bars, [YELLOW, DGREEN], 2.5),
  ...candles(p4Start, p4Step, p4Ohlc, 2.2, 0.8, 0.5)
], {mark: 'EURJPY 4h'}, false);

// 1h
makeChart([80,862,335,137], SMALL_PAD, [-12.1, 66.5], [182.08, 184.13], p5XTicks, p5XLabels, p5YTicks, [
  ...dots(p5Dots, ['#c49a9a','#c49a9a',DGREEN,RED,DGREEN,RED,DGREEN,RED,DGREEN], 2.3),
  ...segs(p5Lines, [['#c49a9a',2],['rgba(100,170,100,0.7)',1.5],[YELLOW,2],[DGREEN,2],[CYAN,2],[NAVY,2],[RED,2],['#d8a0a0',2],[SWING,1.5],[SWING,1.5]]),
  ...bars(p5BarLevel, p5Bars, [YELLOW,DGREEN,YELLOW,DGREEN,YELLOW,DGREEN], 2.5),
  ...candles(p5Start, p5Step, p5Ohlc, 3, 1, 0.6)
], {mark: 'EURJPY 1h'}, false);

// 15m
makeChart([469,100,1111,326], BIG_PAD, [2.26, 33.11], [183.5772, 184.0115], m15XTicks, m15XLabels, m15YTicks, [
  ...dots(m15Dots, ['#8c8c8c','#8c8c8c','#444444',DGREEN], 3),
  ...segs(m15Lines, [['#8c8c8c',2],['#444444',2],['#8c8c8c',2]]),
  ...bands(m15Bands, [['rgba(130,130,245,0.38)'],['rgba(0,128,0,0.19)','rgba(120,120,120,0.35)'],['rgba(170,170,255,0.28)'],
    ['rgba(0,128,0,0.1)','rgba(150,150,150,0.2)'],['rgba(0,128,0,0.19)','rgba(150,150,150,0.3)']]),
  ...candles(m15Start, m15Step, m15Ohlc, 5.5, 1.3, 1)
], {mark: 'EURJPY 15m', frame: '#7272f0', notes: m15Notes, shift: [[0,0],[2,1]]}, true);

// 5m
makeChart([469,481,1111,518], BIG_PAD, [18.552, 30.716], [183.5455, 184.1677], m5XTicks, m5XLabels, m5YTicks, [
  ...dots(m5Dots, ['#bdbdbd','#a8a8a8','#f7b5b5','#f7b5b5','#d98080',DGREEN,RED,RED,'#006400',RED,'#006400',RED], 3),
  outline(m5Box[0], m5Box[1], m5StopLoss, m5TakeProfit, 'rgba(90,90,90,0.6)'),
  ...bands([[m5Box[0], m5Box[1], m5Entry, m5TakeProfit],[m5Box[0], m5Box[1], m5StopLoss, m5Entry]],
    [['rgba(0,128,0,0.5)'],['rgba(128,128,128,0.5)']], 2),
  ...segs(m5Lines, [['#bdbdbd',2],['#f5a3a3',2],['rgba(190,190,255,0.6)',1.5],['#ff5a5a',2],[RED,2.5],[NAVY,2],[CYAN,2],[DGREEN,2],
    [YELLOW,2],['#2e8b2e',2],['#ff4a4a',2],['#f08c8c',2]]),
  ...bars(m5BarLevel, m5Bars, [YELLOW, DGREEN, BLUE, BLUE], 3.5, 3),
  ...bars(m5BarLevel, m5BarHalo, ['rgba(160,160,255,0.5)'], 7, 4),
  ...bands(m5Bands, [['rgba(170,170,250,0.35)'],['rgba(255,0,0,0.2)'],['rgba(150,150,255,0.3)'],['rgba(150,150,255,0.3)']]),
  ...candles(m5Start, m5Step, m5Ohlc, 5, 1.3, 1)
], {mark: 'EURJPY 5m', frame: '#f47a7a', notes: m5Notes}, true);
</script>
</body>
</html>
